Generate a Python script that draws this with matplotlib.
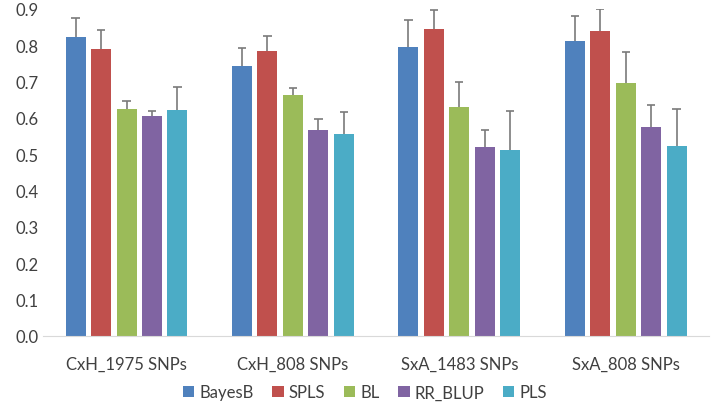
import numpy as np
import matplotlib.pyplot as plt

plt.rcParams['font.family'] = ['Lato', 'DejaVu Sans']

# Data
groups = ['CxH_1975 SNPs', 'CxH_808 SNPs', 'SxA_1483 SNPs', 'SxA_808 SNPs']
methods = ['BayesB', 'SPLS', 'BL', 'RR_BLUP', 'PLS']
colors = ['#4f81bd', '#c0504d', '#9bbb59', '#8064a2', '#4bacc6']

bayesb = [0.824, 0.742, 0.795, 0.813]
spls = [0.790, 0.784, 0.846, 0.838]
bl = [0.626, 0.662, 0.631, 0.696]
rr_blup = [0.606, 0.568, 0.519, 0.576]
pls = [0.622, 0.555, 0.512, 0.522]

bayesb_err = [0.050, 0.050, 0.074, 0.067]
spls_err = [0.051, 0.042, 0.051, 0.061]
bl_err = [0.022, 0.020, 0.069, 0.086]
rr_blup_err = [0.013, 0.028, 0.047, 0.060]
pls_err = [0.064, 0.062, 0.107, 0.102]

values = [bayesb, spls, bl, rr_blup, pls]
errors = [bayesb_err, spls_err, bl_err, rr_blup_err, pls_err]

fig = plt.figure(figsize=(7.11, 4.14), dpi=100)
ax = fig.add_axes([0.061, 0.186, 0.936, 0.79])

x = np.arange(len(groups))
width = 0.12
step = 0.153
cap = 0.025
for i, (m, vals, errs) in enumerate(zip(methods, values, errors)):
    pos = x + (i - 2) * step
    vals = np.array(vals)
    tops = vals + np.array(errs)
    ax.bar(pos, vals, width, color=colors[i], label=m, zorder=2)
    # upper-only error bars
    ax.vlines(pos, vals, tops, color='#7a7a7a', lw=1.2, zorder=3)
    ax.hlines(tops, pos - cap, pos + cap, color='#7a7a7a', lw=1.2, zorder=3)

ax.set_xlim(-0.5, len(groups) - 0.5)
ax.set_ylim(0, 0.9)
ax.set_yticks(np.arange(0, 0.91, 0.1))
ax.set_yticklabels(['%.1f' % v for v in np.arange(0, 0.91, 0.1)])
ax.set_xticks(x)
ax.set_xticklabels(groups)
ax.tick_params(axis='both', length=0, labelsize=12, colors='#404040')
ax.tick_params(axis='x', pad=14)
for s in ['top', 'right', 'left']:
    ax.spines[s].set_visible(False)
ax.spines['bottom'].set_color('#d9d9d9')

fig.legend(loc='center', bbox_to_anchor=(0.513, 0.05), ncol=5, frameon=False,
           fontsize=12, handlelength=0.7, handleheight=0.7, handletextpad=0.3,
           columnspacing=1.1, labelcolor='#404040')

fig.savefig('out.png', dpi=100)
